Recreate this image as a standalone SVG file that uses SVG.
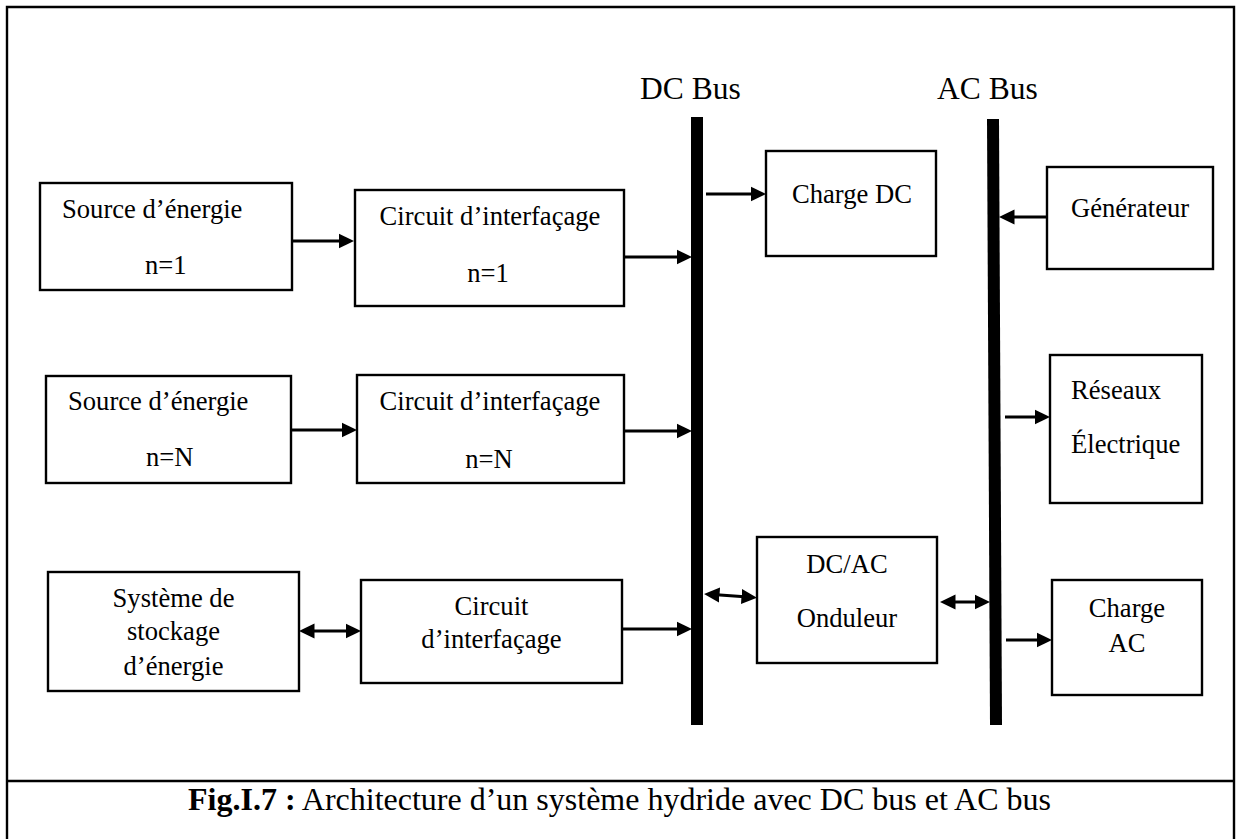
<svg xmlns="http://www.w3.org/2000/svg" width="1243" height="839" viewBox="0 0 1243 839">
  <style>
    text { font-family: "Liberation Serif", "Times New Roman", serif; fill: #000; }
    .t { font-size: 26.6px; }
    .c { text-anchor: middle; }
    .bus-label { font-size: 31.5px; }
    .cap { font-size: 32px; }
    .box { fill: #fff; stroke: #000; stroke-width: 2.4; }
    .frame { fill: none; stroke: #000; stroke-width: 2.4; }
    .arrow { fill: none; stroke: #000; stroke-width: 3; }
  </style>
  <defs>
    <marker id="head" markerUnits="userSpaceOnUse" markerWidth="18" markerHeight="18" viewBox="0 0 18 18" refX="3" refY="9" orient="auto-start-reverse">
      <path d="M0,1.5 L15.5,9 L0,16.5 Z" fill="#000"/>
    </marker>
  </defs>

  <rect width="1243" height="839" fill="#fff"/>

  <!-- figure frame and caption separator -->
  <path class="frame" d="M7,850 V7 H1234 V850"/>
  <line x1="7" y1="781" x2="1234" y2="781" stroke="#000" stroke-width="2.4"/>

  <!-- buses -->
  <g id="dc-bus">
    <rect x="691" y="117" width="12" height="608" fill="#000"/>
    <text class="bus-label" x="640" y="99">DC Bus</text>
  </g>
  <g id="ac-bus">
    <polygon points="987,119 999,119 1002,725 990,725" fill="#000"/>
    <text class="bus-label" x="937" y="99">AC Bus</text>
  </g>

  <!-- sources and interface circuits -->
  <g id="source-1">
    <rect class="box" x="40" y="183" width="252" height="107"/>
    <text class="t" x="62" y="218">Source d’énergie</text>
    <text class="t" x="145" y="274">n=1</text>
  </g>
  <g id="circuit-1">
    <rect class="box" x="355" y="190" width="269" height="116"/>
    <text class="t c" x="490" y="225">Circuit d’interfaçage</text>
    <text class="t c" x="488" y="282">n=1</text>
  </g>
  <g id="source-n">
    <rect class="box" x="46" y="376" width="245" height="107"/>
    <text class="t" x="68" y="410">Source d’énergie</text>
    <text class="t" x="146" y="466">n=N</text>
  </g>
  <g id="circuit-n">
    <rect class="box" x="357" y="375" width="267" height="108"/>
    <text class="t c" x="490" y="410">Circuit d’interfaçage</text>
    <text class="t c" x="489" y="468">n=N</text>
  </g>
  <g id="storage">
    <rect class="box" x="48" y="572" width="251" height="119"/>
    <text class="t c" x="173.5" y="607">Système de</text>
    <text class="t c" x="173.5" y="640">stockage</text>
    <text class="t c" x="173.5" y="675">d’énergie</text>
  </g>
  <g id="circuit-storage">
    <rect class="box" x="361" y="580" width="261" height="103"/>
    <text class="t c" x="491.5" y="615">Circuit</text>
    <text class="t c" x="491.5" y="648">d’interfaçage</text>
  </g>

  <!-- loads, inverter and AC side -->
  <g id="charge-dc">
    <rect class="box" x="766" y="151" width="170" height="105"/>
    <text class="t" x="792" y="203">Charge DC</text>
  </g>
  <g id="onduleur">
    <rect class="box" x="757" y="537" width="180" height="126"/>
    <text class="t c" x="847" y="573">DC/AC</text>
    <text class="t c" x="847" y="627">Onduleur</text>
  </g>
  <g id="generateur">
    <rect class="box" x="1047" y="167" width="166" height="102"/>
    <text class="t" x="1071" y="217">Générateur</text>
  </g>
  <g id="reseau">
    <rect class="box" x="1050" y="355" width="152" height="148"/>
    <text class="t" x="1071" y="399">Réseaux</text>
    <text class="t" x="1071" y="453">Électrique</text>
  </g>
  <g id="charge-ac">
    <rect class="box" x="1052" y="580" width="150" height="115"/>
    <text class="t c" x="1127" y="617">Charge</text>
    <text class="t c" x="1127" y="652">AC</text>
  </g>

  <!-- connectors -->
  <g id="connectors">
    <line class="arrow" x1="292" y1="241" x2="341.5" y2="241" marker-end="url(#head)"/>
    <line class="arrow" x1="624" y1="257" x2="679.5" y2="257" marker-end="url(#head)"/>
    <line class="arrow" x1="291" y1="430" x2="344.5" y2="430" marker-end="url(#head)"/>
    <line class="arrow" x1="624" y1="431" x2="679.5" y2="431" marker-end="url(#head)"/>
    <line class="arrow" x1="311.5" y1="631" x2="348.5" y2="631" marker-start="url(#head)" marker-end="url(#head)"/>
    <line class="arrow" x1="622" y1="629" x2="679.5" y2="629" marker-end="url(#head)"/>
    <line class="arrow" x1="706" y1="194" x2="753.5" y2="194" marker-end="url(#head)"/>
    <line class="arrow" x1="1047" y1="217" x2="1011.5" y2="217" marker-end="url(#head)"/>
    <line class="arrow" x1="1005" y1="417" x2="1037.5" y2="417" marker-end="url(#head)"/>
    <line class="arrow" x1="716.5" y1="594.8" x2="744.5" y2="596.8" marker-start="url(#head)" marker-end="url(#head)"/>
    <line class="arrow" x1="952.5" y1="602" x2="977.5" y2="602" marker-start="url(#head)" marker-end="url(#head)"/>
    <line class="arrow" x1="1006" y1="640" x2="1039.5" y2="640" marker-end="url(#head)"/>
  </g>

  <!-- caption -->
  <text class="cap" x="188" y="810"><tspan font-weight="bold">Fig.I.7 :</tspan> Architecture d’un système hydride avec DC bus et AC bus</text>
</svg>
